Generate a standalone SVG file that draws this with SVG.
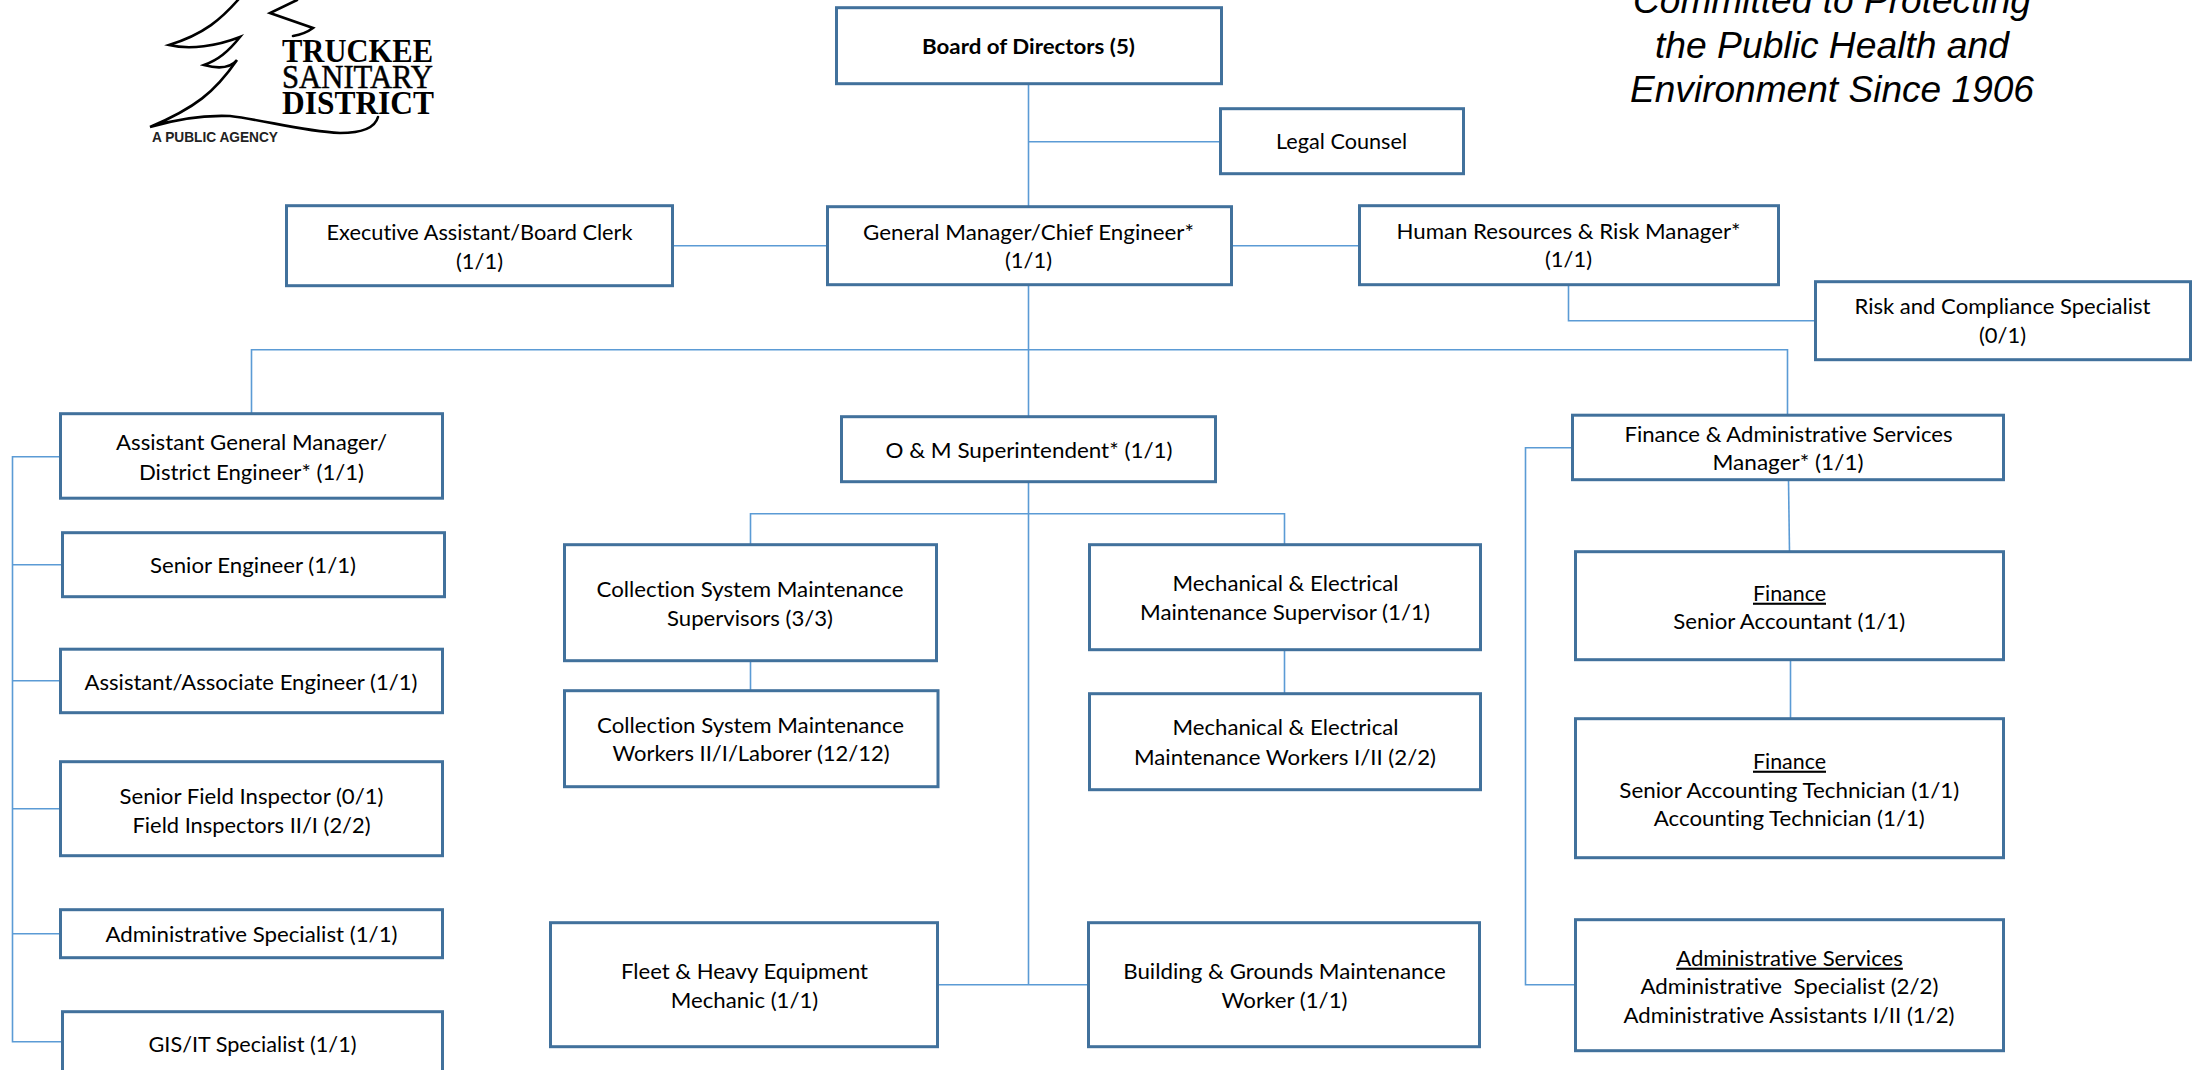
<svg xmlns="http://www.w3.org/2000/svg" width="2200" height="1070" viewBox="0 0 2200 1070">
<style>
.box{fill:#fff;stroke:#41719c;stroke-width:3}
.c{fill:none;stroke:#5b9bd5;stroke-width:1.6}
text{font-family:"Lato","Open Sans","Liberation Sans",sans-serif;font-size:21px;fill:#000;text-anchor:middle;font-variant-ligatures:none}
.b{font-weight:700}
.u{text-decoration:underline}
.tag{font-family:"Liberation Sans",Arial,sans-serif;font-style:italic;font-size:37px}
.logo{font-family:"Liberation Serif","Times New Roman",serif;font-size:33.5px;text-anchor:start}
.semi{stroke:#000;stroke-width:.5}
.pub{font-family:"Liberation Sans",Arial,sans-serif;font-size:15px;font-weight:700;text-anchor:start;fill:#222}
.tree{fill:none;stroke:#000;stroke-width:2.6;stroke-linecap:round;stroke-linejoin:miter}
</style>
<rect width="2200" height="1070" fill="#fff"/>
<g id="logo">
<path class="tree" d="M238,0 C222,18 205,34 169,45 C190,50 217,46 240,37 C228,52 218,60 204,65 C222,70 232,66 237,60 C215,92 195,108 150,127 C180,118 205,115 230,116 C265,120 300,131 340,133 C362,133 375,128 378,117"/>
<path class="tree" d="M297,0 L270,13 L313,28 Q305,34 293,36"/>
<text class="logo b" x="282" y="62" textLength="151" lengthAdjust="spacingAndGlyphs">TRUCKEE</text>
<text class="logo semi" x="282" y="88.3" textLength="151" lengthAdjust="spacingAndGlyphs">SANITARY</text>
<text class="logo b" x="282" y="114" textLength="152" lengthAdjust="spacingAndGlyphs">DISTRICT</text>
<text class="pub" x="152" y="141.7" textLength="126" lengthAdjust="spacingAndGlyphs">A PUBLIC AGENCY</text>
</g>
<g id="tagline">
<text class="tag" x="1832" y="12.7" textLength="398" lengthAdjust="spacingAndGlyphs">Committed to Protecting</text>
<text class="tag" x="1832" y="57.7" textLength="354" lengthAdjust="spacingAndGlyphs">the Public Health and</text>
<text class="tag" x="1832" y="102" textLength="404" lengthAdjust="spacingAndGlyphs">Environment Since 1906</text>
</g>
<g id="chart" transform="translate(0.5,0.7)">
<g id="connectors">
<path class="c" d="M1028,83 V206"/>
<path class="c" d="M1028,141 H1220"/>
<path class="c" d="M672,245 H827"/>
<path class="c" d="M1231,245 H1359"/>
<path class="c" d="M1568,284 V320 H1815"/>
<path class="c" d="M1028,284 V416"/>
<path class="c" d="M251,413 V349 H1787 V414"/>
<path class="c" d="M60,456 H12 V1041 H62"/>
<path class="c" d="M12,564 H62"/>
<path class="c" d="M12,680 H60"/>
<path class="c" d="M12,808 H60"/>
<path class="c" d="M12,933 H60"/>
<path class="c" d="M1028,481 V984"/>
<path class="c" d="M750,544 V513 H1284 V544"/>
<path class="c" d="M750,660 V690"/>
<path class="c" d="M1284,649 V693"/>
<path class="c" d="M937,984 H1088"/>
<path class="c" d="M1572,447 H1525 V984 H1575"/>
<path class="c" d="M1788,479 L1789,551"/>
<path class="c" d="M1790,659 V718"/>
</g>
<g id="board"><rect class="box" x="836" y="7" width="385" height="76"/><text class="b" x="1028" y="53" textLength="213" lengthAdjust="spacingAndGlyphs">Board of Directors (5)</text></g>
<g id="legal"><rect class="box" x="1220" y="108" width="243" height="65"/><text x="1341" y="148" textLength="131" lengthAdjust="spacingAndGlyphs">Legal Counsel</text></g>
<g id="gm"><rect class="box" x="827" y="206" width="404" height="78"/><text x="1028" y="239" textLength="331" lengthAdjust="spacingAndGlyphs">General Manager/Chief Engineer*</text><text x="1028" y="267" textLength="47" lengthAdjust="spacingAndGlyphs">(1/1)</text></g>
<g id="exec"><rect class="box" x="286" y="205" width="386" height="80"/><text x="479" y="239" textLength="306" lengthAdjust="spacingAndGlyphs">Executive Assistant/Board Clerk</text><text x="479" y="268" textLength="47" lengthAdjust="spacingAndGlyphs">(1/1)</text></g>
<g id="hr"><rect class="box" x="1359" y="205" width="419" height="79"/><text x="1568" y="238" textLength="344" lengthAdjust="spacingAndGlyphs">Human Resources &amp; Risk Manager*</text><text x="1568" y="266" textLength="47" lengthAdjust="spacingAndGlyphs">(1/1)</text></g>
<g id="risk"><rect class="box" x="1815" y="281" width="375" height="78"/><text x="2002" y="313" textLength="296" lengthAdjust="spacingAndGlyphs">Risk and Compliance Specialist</text><text x="2002" y="342" textLength="47" lengthAdjust="spacingAndGlyphs">(0/1)</text></g>
<g id="agm"><rect class="box" x="60" y="413" width="382" height="84.500"/><text x="251" y="449.500" textLength="271" lengthAdjust="spacingAndGlyphs">Assistant General Manager/</text><text x="251" y="479" textLength="225" lengthAdjust="spacingAndGlyphs">District Engineer* (1/1)</text></g>
<g id="senior-engineer"><rect class="box" x="62" y="532" width="382" height="64"/><text x="252.500" y="572" textLength="206" lengthAdjust="spacingAndGlyphs">Senior Engineer (1/1)</text></g>
<g id="associate-engineer"><rect class="box" x="60" y="648.500" width="382" height="63.500"/><text x="250.500" y="689" textLength="333" lengthAdjust="spacingAndGlyphs">Assistant/Associate Engineer (1/1)</text></g>
<g id="inspectors"><rect class="box" x="60" y="761" width="382" height="94"/><text x="251" y="803" textLength="264" lengthAdjust="spacingAndGlyphs">Senior Field Inspector (0/1)</text><text x="251" y="832" textLength="238" lengthAdjust="spacingAndGlyphs">Field Inspectors II/I (2/2)</text></g>
<g id="admin-specialist"><rect class="box" x="60" y="909" width="382" height="48"/><text x="251" y="941.600" textLength="292" lengthAdjust="spacingAndGlyphs">Administrative Specialist (1/1)</text></g>
<g id="gis"><rect class="box" x="62" y="1011" width="380" height="70"/><text x="252" y="1051" textLength="208" lengthAdjust="spacingAndGlyphs">GIS/IT Specialist (1/1)</text></g>
<g id="om"><rect class="box" x="841" y="416" width="374" height="65"/><text x="1028.500" y="457" textLength="287" lengthAdjust="spacingAndGlyphs">O &amp; M Superintendent* (1/1)</text></g>
<g id="cs-sup"><rect class="box" x="564" y="544" width="372" height="116"/><text x="749.500" y="596" textLength="307" lengthAdjust="spacingAndGlyphs">Collection System Maintenance</text><text x="749.500" y="625" textLength="166" lengthAdjust="spacingAndGlyphs">Supervisors (3/3)</text></g>
<g id="cs-work"><rect class="box" x="564" y="690" width="373.500" height="96"/><text x="750" y="732" textLength="307" lengthAdjust="spacingAndGlyphs">Collection System Maintenance</text><text x="750.500" y="760" textLength="277" lengthAdjust="spacingAndGlyphs">Workers II/I/Laborer (12/12)</text></g>
<g id="me-sup"><rect class="box" x="1089" y="544" width="391" height="105"/><text x="1285" y="590" textLength="226" lengthAdjust="spacingAndGlyphs">Mechanical &amp; Electrical</text><text x="1284.500" y="619" textLength="290" lengthAdjust="spacingAndGlyphs">Maintenance Supervisor (1/1)</text></g>
<g id="me-work"><rect class="box" x="1089" y="693" width="391" height="96"/><text x="1285" y="734" textLength="226" lengthAdjust="spacingAndGlyphs">Mechanical &amp; Electrical</text><text x="1284.500" y="764" textLength="302" lengthAdjust="spacingAndGlyphs">Maintenance Workers I/II (2/2)</text></g>
<g id="fleet"><rect class="box" x="550" y="922" width="387" height="124"/><text x="744" y="978" textLength="247" lengthAdjust="spacingAndGlyphs">Fleet &amp; Heavy Equipment</text><text x="744" y="1007" textLength="147.500" lengthAdjust="spacingAndGlyphs">Mechanic (1/1)</text></g>
<g id="buildings"><rect class="box" x="1088" y="922" width="391" height="124"/><text x="1284" y="978" textLength="322.500" lengthAdjust="spacingAndGlyphs">Building &amp; Grounds Maintenance</text><text x="1284" y="1007" textLength="126" lengthAdjust="spacingAndGlyphs">Worker (1/1)</text></g>
<g id="fas"><rect class="box" x="1572" y="414.500" width="431" height="64.500"/><text x="1788" y="441.500" textLength="328" lengthAdjust="spacingAndGlyphs">Finance &amp; Administrative Services</text><text x="1787.500" y="469.700" textLength="151" lengthAdjust="spacingAndGlyphs">Manager* (1/1)</text></g>
<g id="senior-accountant"><rect class="box" x="1575" y="551" width="428" height="108"/><text class="u" x="1789" y="600" textLength="73" lengthAdjust="spacingAndGlyphs">Finance</text><text x="1788.700" y="628.600" textLength="232" lengthAdjust="spacingAndGlyphs">Senior Accountant (1/1)</text></g>
<g id="accounting-tech"><rect class="box" x="1575" y="718" width="428" height="139"/><text class="u" x="1789" y="768" textLength="73" lengthAdjust="spacingAndGlyphs">Finance</text><text x="1788.800" y="797" textLength="340" lengthAdjust="spacingAndGlyphs">Senior Accounting Technician (1/1)</text><text x="1788.800" y="825" textLength="271" lengthAdjust="spacingAndGlyphs">Accounting Technician (1/1)</text></g>
<g id="admin-services"><rect class="box" x="1575" y="919" width="428" height="131"/><text class="u" x="1789" y="965" textLength="226.700" lengthAdjust="spacingAndGlyphs">Administrative Services</text><text x="1789" y="993" textLength="298" lengthAdjust="spacingAndGlyphs" xml:space="preserve">Administrative  Specialist (2/2)</text><text x="1788.500" y="1022" textLength="331" lengthAdjust="spacingAndGlyphs">Administrative Assistants I/II (1/2)</text></g>
</g>
</svg>
